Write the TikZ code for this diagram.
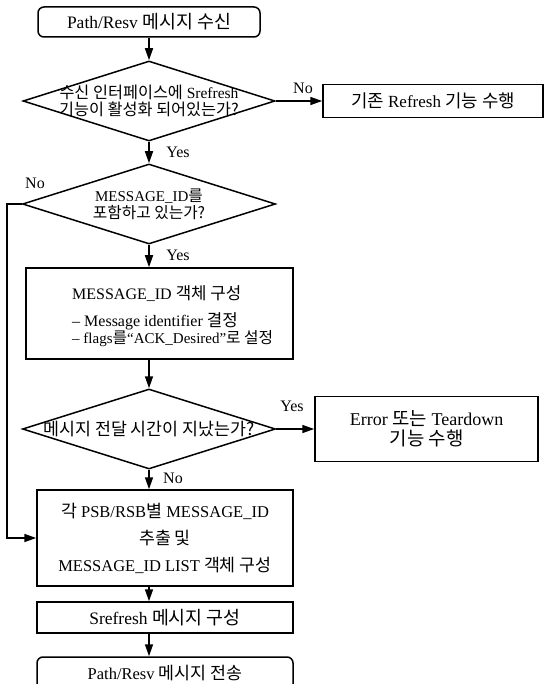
\documentclass[tikz,border=0pt]{standalone}
\usepackage{fontspec}
\setmainfont{Liberation Serif}
\newfontfamily\krfont{Noto Sans CJK KR}[Scale=1.05]
\newcommand{\hk}[1]{{\krfont #1}}
\usetikzlibrary{shapes.geometric,arrows.meta}
\tikzset{
  base/.style={draw=black, line width=1.5pt, inner sep=0pt, align=center},
  procbox/.style={base, rectangle},
  termbox/.style={base, rectangle, rounded corners=6pt},
  decision/.style={base, diamond, aspect=3.1},
  lbl/.style={inner sep=0pt, font=\fontsize{16}{18}\selectfont},
  arr/.style={draw=black, line width=1.5pt, -{Triangle[length=12pt,width=8pt]}}
}
\begin{document}
\begin{tikzpicture}[x=1pt,y=-1pt,font=\fontsize{17}{19}\selectfont]
\useasboundingbox (0,0) rectangle (547,684);
\clip (0,0) rectangle (547,684);
\fill[white] (0,0) rectangle (547,684);

\node[termbox, minimum width=222pt, minimum height=30pt, font=\fontsize{17.5}{19}\selectfont] (start) at (149,22)
  {Path/Resv \hk{메시지 수신}};
\node[decision, minimum width=252pt, minimum height=80pt,
  label={[align=center, font=\fontsize{15.5}{16.5}\selectfont]center:\hk{수신 인터페이스에} Srefresh\\\hk{기능이 활성화 되어있는가?}}] (d1) at (149,101) {};
\node[procbox, minimum width=220pt, minimum height=33pt, font=\fontsize{17}{18}\selectfont] (r1) at (433,101)
  {\hk{기존} Refresh \hk{기능 수행}};
\node[decision, minimum width=253pt, minimum height=80pt,
  label={[align=center, font=\fontsize{15}{17}\selectfont]center:MESSAGE\_ID\hk{를}\\\hk{포함하고 있는가?}}] (d2) at (149,204) {};
\node[procbox, minimum width=267pt, minimum height=91pt] (b1) at (159.5,313.5) {};
\node[inner sep=0pt, anchor=west, align=left, font=\fontsize{16}{17}\selectfont] (b1t) at (72,316)
  {MESSAGE\_ID \hk{객체 구성}\\[10pt]
   -- Message identifier \hk{결정}\\
   {\fontsize{15}{17}\selectfont -- flags\hk{를}“ACK\_Desired”\hk{로 설정}}};
\node[decision, minimum width=253pt, minimum height=80pt,
  label={[font=\fontsize{16.5}{17}\selectfont]center:\hk{메시지 전달 시간이 지났는가?}}] (d3) at (149,429) {};
\node[procbox, minimum width=223pt, minimum height=65pt, font=\fontsize{18}{20}\selectfont] (err) at (426.5,429)
  {Error \hk{또는} Teardown\\\hk{기능 수행}};
\node[procbox, minimum width=256pt, minimum height=96pt, font=\fontsize{16.5}{19}\selectfont] (b3) at (165,538)
  {\hk{각} PSB/RSB\hk{별} MESSAGE\_ID\\[8pt]\hk{추출 및}\\[8pt]MESSAGE\_ID LIST \hk{객체 구성}};
\node[procbox, minimum width=256pt, minimum height=31pt, font=\fontsize{17.5}{19}\selectfont] (b4) at (165,617.5)
  {Srefresh \hk{메시지 구성}};
\node[termbox, minimum width=256pt, minimum height=33pt, font=\fontsize{16.5}{18}\selectfont] (end) at (165,673.5)
  {Path/Resv \hk{메시지 전송}};

\coordinate (lp) at (7,204);

\draw[arr] (start) -- (d1);
\draw[arr] (d1.east) -- (r1.west);
\draw[arr] (d1) -- (d2);
\draw[arr] (d2.south) -- (d2.south |- b1.north);
\draw[arr] (d2.west) -- (lp) |- (b3.west);
\draw[arr] (b1.south -| d3.north) -- (d3.north);
\draw[arr] (d3.east) -- (err.west);
\draw[arr] (d3.south) -- (d3.south |- b3.north);
\draw[arr] (b3.south -| d3.south) -- (b4.north -| d3.south);
\draw[arr] (b4.south -| d3.south) -- (end.north -| d3.south);

\node[lbl] (no1) at (303,88) {No};
\node[lbl] (yes1) at (178,152) {Yes};
\node[lbl] (no2) at (35,183) {No};
\node[lbl] (yes2) at (178,255) {Yes};
\node[lbl] (yes3) at (292,406) {Yes};
\node[lbl] (no3) at (173,478) {No};
\end{tikzpicture}
\end{document}
